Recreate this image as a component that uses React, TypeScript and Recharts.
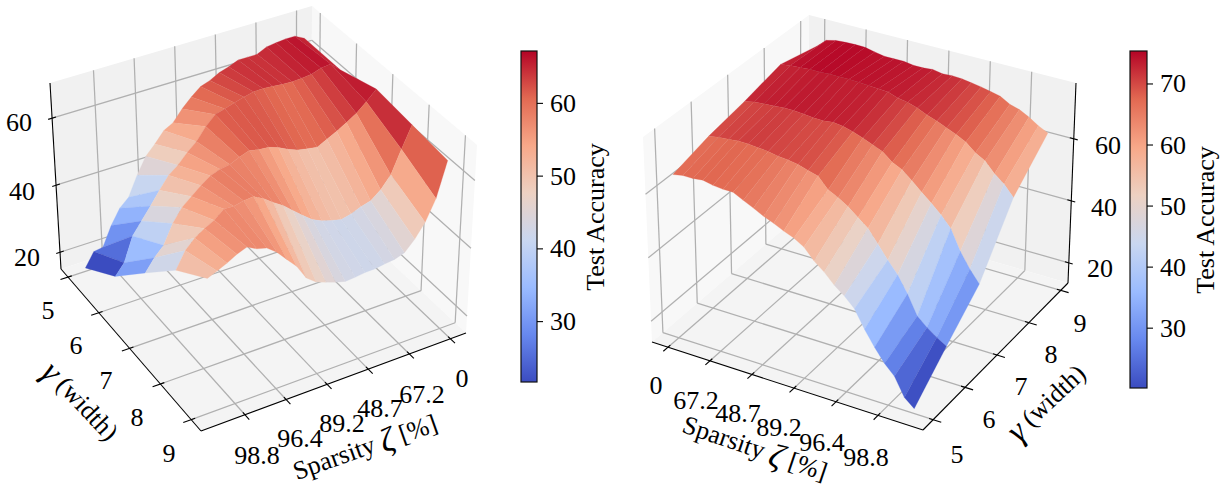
import React from 'react';
import { ScatterChart, Scatter, XAxis, YAxis } from 'recharts';

// ---------- Data: accuracy by gamma row, from sparsity 98.8 to 0 ----------
const leftG5 = [16,20,20.4,26,30.3,32.7,38.4,43.2,46,49.2,50.7,54,56.7,59,60,61.5,62.4,63.6,63.6,63.6,65,65.4,65.7,65.7,64.2];
const leftG6 = [23.9,27,34,37.5,41,44.8,48.3,50.4,53.3,55.7,59.3,62,62.8,63.7,64.6,65.3,65.4,65.2,64.9,64.8,65,65.3,66.3,66.6,64];
const leftG7 = [35,38.5,41.2,46.6,50.4,52.7,55,57,58,58.5,59.8,60.8,60.2,60,59,57.6,56.5,56,55.5,57,58.5,60.2,62,64.6,67.5];
const leftG8 = [45.6,50.3,53,54.8,56.3,58.6,58.5,59.2,59.5,58,56,54.2,51.8,49.5,47.3,46,45.2,44.5,45.2,46.4,47.2,49.5,53,59.7,66];
const leftG9 = [52.8,54,55.3,56.9,58,56.6,55.9,53.8,50.8,47.9,43.6,41.5,40.5,39.5,38.8,39,39.4,39.5,40,40.3,41.3,44.3,48.3,54.3,64.6];

const rightG5 = [15,17.5,23,26,30,34.6,40,43,45.4,48.5,51,54.4,56.3,57.5,59,60.3,61.9,63.4,65,65,65.3,66,65.6,65.6,65];
const rightG6 = [24.4,26.2,28.4,31,37,42,45.7,49.8,53.8,56.3,58.8,60.8,62.3,65.7,66.6,67.6,68.1,68.4,69,69.3,69.6,69.6,69.3,69,68.4];
const rightG7 = [34,37.8,42.5,48.8,52.2,55,57.6,60.4,63,64.5,67,68.3,69.6,70.7,71.6,72,71.6,71.7,72,72.3,72.3,72,71.8,71.5,70.8];
const rightG8 = [51.6,55,57.4,60.7,62.4,65,66.6,67.9,69.2,70.3,71.7,72.7,73.3,74.4,74.6,74.8,75,75.1,75.1,75.1,74.9,75,74.7,74.5,74];
const rightG9 = [62.5,64,66,67.6,68.5,70.3,71,71.7,72.2,72.7,72.9,72.7,73.3,73,73,73.5,73.5,73.5,74.1,74.8,74.9,74.8,74.6,73.8,71];

const sparsityLabels = ['98.8', '96.4', '89.2', '48.7', '67.2', '0'];
const gammaLabels = ['5', '6', '7', '8', '9'];
const zTicks = [20, 40, 60];
const leftBarTicks = [30, 40, 50, 60];
const rightBarTicks = [30, 40, 50, 60, 70];

const coolwarmStops = ['#3b4cc0', '#6788ee', '#9abbff', '#c9d7f0', '#edd1c2', '#f7a889', '#e26952', '#b40426'];

// ---------- Layout of the two 3D boxes ----------
type P = [number, number];
interface Box {
  floor: P[]; top: P[];
  zMin: number; zMax: number;
  a0: number; aStep: number;
  b0: number; b1: number; tick0: number; tickStep: number;
  rows: number[][];
  vMin: number; vMax: number;
  mirror: boolean;
}
const leftBox: Box = {
  floor: [[61, 269], [201, 431], [466, 333], [311, 187]],
  top: [[50, 83], [197, 232], [477, 145], [312, 6]],
  zMin: 15, zMax: 70.5,
  a0: 0.05, aStep: 0.22,
  b0: 0.07, b1: 0.94, tick0: 0.166, tickStep: 0.155,
  rows: [leftG5, leftG6, leftG7, leftG8, leftG9],
  vMin: 21.7, vMax: 67.2, mirror: false,
};
const rightBox: Box = {
  floor: [[923, 430], [1068, 283], [808, 208], [652, 342]],
  top: [[922, 218], [1076, 83], [809, 15], [643, 137]],
  zMin: 13.5, zMax: 78,
  a0: 0.07, aStep: 0.22,
  b0: 0.07, b1: 0.94, tick0: 0.166, tickStep: 0.155,
  rows: [rightG5, rightG6, rightG7, rightG8, rightG9],
  vMin: 20.2, vMax: 75.4, mirror: true,
};

const bil = (q: P[], a: number, b: number): P => [
  q[0][0] * (1 - a) * (1 - b) + q[1][0] * a * (1 - b) + q[2][0] * a * b + q[3][0] * (1 - a) * b,
  q[0][1] * (1 - a) * (1 - b) + q[1][1] * a * (1 - b) + q[2][1] * a * b + q[3][1] * (1 - a) * b,
];
const proj = (box: Box, a: number, b: number, c: number): P => {
  const f = bil(box.floor, a, b);
  const t = bil(box.top, a, b);
  return [f[0] + (t[0] - f[0]) * c, f[1] + (t[1] - f[1]) * c];
};
const zFrac = (box: Box, z: number) => (z - box.zMin) / (box.zMax - box.zMin);

const hexToRgb = (h: string) => [1, 3, 5].map((i) => parseInt(h.slice(i, i + 2), 16));
const coolwarm = (t: number) => {
  const s = Math.max(0, Math.min(1, t)) * (coolwarmStops.length - 1);
  const i = Math.min(Math.floor(s), coolwarmStops.length - 2);
  const u = s - i;
  const p = hexToRgb(coolwarmStops[i]);
  const q = hexToRgb(coolwarmStops[i + 1]);
  return `rgb(${p.map((v, k) => Math.round(v + (q[k] - v) * u)).join(',')})`;
};

// ---------- Items handed to the Scatter series ----------
interface Item { x: number; y: number; pts?: P[]; fill?: string; stroke?: string; sw?: number; text?: string; size?: number; rot?: number; anchor?: string; greek?: string; rest?: string; grad?: boolean; w?: number; h?: number; }

const poly = (pts: P[], fill?: string, stroke?: string, sw?: number): Item => ({
  x: pts.reduce((s, p) => s + p[0], 0) / pts.length,
  y: pts.reduce((s, p) => s + p[1], 0) / pts.length,
  pts, fill, stroke, sw,
});

const panes = (box: Box): Item[] => {
  const [f, t] = [box.floor, box.top];
  if (!box.mirror) return [
    poly([f[0], f[3], t[3], t[0]], '#f1f1f1'),
    poly([f[3], f[2], t[2], t[3]], '#f8f8f8'),
    poly([f[0], f[1], f[2], f[3]], '#f4f4f4'),
  ];
  return [
    poly([f[1], f[2], t[2], t[1]], '#f1f1f1'),
    poly([f[2], f[3], t[3], t[2]], '#f8f8f8'),
    poly([f[0], f[1], f[2], f[3]], '#f4f4f4'),
  ];
};

const gridLines = (box: Box): Item[] => {
  const out: Item[] = [];
  const line = (p: P, q: P) => out.push(poly([p, q], undefined, '#b0b0b0', 1.25));
  const aT = gammaLabels.map((_, i) => box.a0 + box.aStep * i);
  const bT = sparsityLabels.map((_, i) => box.tick0 + box.tickStep * i);
  const aWall = box.mirror ? 1 : 0;
  aT.forEach((a) => {
    line(proj(box, a, 0, 0), proj(box, a, 1, 0));
    line(proj(box, a, 1, 0), proj(box, a, 1, 1));
  });
  bT.forEach((b) => {
    line(proj(box, 0, b, 0), proj(box, 1, b, 0));
    line(proj(box, aWall, b, 0), proj(box, aWall, b, 1));
  });
  zTicks.forEach((z) => {
    const c = zFrac(box, z);
    line(proj(box, 0, 1, c), proj(box, 1, 1, c));
    line(proj(box, aWall, 0, c), proj(box, aWall, 1, c));
  });
  return out;
};

const axisLines = (box: Box): Item[] => {
  const out: Item[] = [];
  const line = (p: P, q: P) => out.push(poly([p, q], undefined, '#000', 1.1));
  const zA = box.mirror ? 1 : 0;
  line(proj(box, zA, 0, 0), proj(box, zA, 0, 1));
  line(proj(box, 0, 0, 0), proj(box, 1, 0, 0));
  const sA = box.mirror ? 0 : 1;
  line(proj(box, sA, 0, 0), proj(box, sA, 1, 0));
  gammaLabels.forEach((_, i) => {
    const a = box.a0 + box.aStep * i;
    line(proj(box, a, -0.03, 0), proj(box, a, 0.015, 0));
  });
  sparsityLabels.forEach((_, i) => {
    const b = box.tick0 + box.tickStep * i;
    const e = box.mirror ? -0.03 : 1.03;
    const n = box.mirror ? 0.015 : 0.985;
    line(proj(box, e, b, 0), proj(box, n, b, 0));
  });
  zTicks.forEach((z) => {
    const c = zFrac(box, z);
    const dirA = box.mirror ? 1 : 0;
    line(proj(box, dirA, -0.015, c), proj(box, dirA, 0.015, c));
  });
  return out;
};

const faces = (box: Box): Item[] => {
  const out: { k: number; it: Item }[] = [];
  const nR = box.rows.length;
  const nC = box.rows[0].length;
  const aOf = (r: number) => box.a0 + box.aStep * r;
  const bOf = (c: number) => box.b0 + ((box.b1 - box.b0) * c) / (nC - 1);
  for (let r = 0; r < nR - 1; r++) {
    for (let c = 0; c < nC - 1; c++) {
      const z = [box.rows[r][c], box.rows[r + 1][c], box.rows[r + 1][c + 1], box.rows[r][c + 1]];
      const avg = (z[0] + z[1] + z[2] + z[3]) / 4;
      const col = coolwarm((avg - box.vMin) / (box.vMax - box.vMin));
      const pts: P[] = [
        proj(box, aOf(r), bOf(c), zFrac(box, z[0])),
        proj(box, aOf(r + 1), bOf(c), zFrac(box, z[1])),
        proj(box, aOf(r + 1), bOf(c + 1), zFrac(box, z[2])),
        proj(box, aOf(r), bOf(c + 1), zFrac(box, z[3])),
      ];
      const a = aOf(r + 0.5);
      const b = bOf(c + 0.5);
      out.push({ k: box.mirror ? -(a + b) : a - b, it: poly(pts, col, col, 0.25) });
    }
  }
  return out.sort((p, q) => p.k - q.k).map((e) => e.it);
};

const FS = 26;
const label = (x: number, y: number, text: string, anchor = 'middle'): Item => ({ x, y, text, anchor, size: FS });
const titled = (x: number, y: number, greek: string, rest: string, rot: number, prefix: string): Item => ({ x, y, greek, rest, rot, text: prefix, size: FS, anchor: 'middle' });

const leftZPos: P[] = [[27, 257], [22, 191], [19, 122]];
const rightZPos: P[] = [[1100, 268], [1104, 207], [1108, 145]];
const leftSPos: P[] = [[257, 455], [300, 438], [342, 423], [380, 408], [422, 394], [462, 378]];
const rightSPos: P[] = [[866, 457], [822, 442], [779, 427], [738, 413], [696, 400], [656, 385]];
const leftGPos: P[] = [[48, 310], [76, 345], [106, 380], [137, 417], [169, 453]];
const rightGPos: P[] = [[957, 454], [989, 419], [1021, 386], [1051, 354], [1080, 323]];

const textItems: Item[] = [
  ...zTicks.map((z, i) => label(leftZPos[i][0], leftZPos[i][1], String(z))),
  ...zTicks.map((z, i) => label(rightZPos[i][0], rightZPos[i][1], String(z))),
  ...sparsityLabels.map((s, i) => label(leftSPos[i][0], leftSPos[i][1], s)),
  ...sparsityLabels.map((s, i) => label(rightSPos[i][0], rightSPos[i][1], s)),
  ...gammaLabels.map((s, i) => label(leftGPos[i][0], leftGPos[i][1], s)),
  ...gammaLabels.map((s, i) => label(rightGPos[i][0], rightGPos[i][1], s)),
  titled(365, 447, 'ζ', ' [%]', -19.5, 'Sparsity '),
  titled(755, 448, 'ζ', ' [%]', 18.7, 'Sparsity '),
  { x: 81, y: 401, greek: 'γ', rest: ' (width)', rot: 47, text: '', size: FS, anchor: 'middle' },
  { x: 1046, y: 402, greek: 'γ', rest: ' (width)', rot: -43, text: '', size: FS, anchor: 'middle' },
  { x: 595, y: 217, text: 'Test Accuracy', rot: -90, size: FS, anchor: 'middle' },
  { x: 1205, y: 220, text: 'Test Accuracy', rot: -90, size: FS, anchor: 'middle' },
];

const bar = (x0: number, x1: number, y0: number, y1: number, vMin: number, vMax: number, ticks: number[]): Item[] => {
  const yOf = (v: number) => y1 - ((v - vMin) / (vMax - vMin)) * (y1 - y0);
  const items: Item[] = [{ x: (x0 + x1) / 2, y: (y0 + y1) / 2, grad: true, w: x1 - x0, h: y1 - y0 }];
  ticks.forEach((t) => {
    items.push(poly([[x1, yOf(t)], [x1 + 6, yOf(t)]], undefined, '#000', 1.1));
    items.push({ x: x1 + 13, y: yOf(t), text: String(t), size: FS, anchor: 'start' });
  });
  return items;
};

const Shape = (props: any) => {
  const { cx, cy, payload: p } = props;
  const dx = cx - p.x;
  const dy = cy - p.y;
  if (p.grad) {
    return (
      <g>
        <defs>
          <linearGradient id="cw" x1="0" y1="1" x2="0" y2="0">
            {coolwarmStops.map((c, i) => (
              <stop key={c} offset={i / (coolwarmStops.length - 1)} stopColor={c} />
            ))}
          </linearGradient>
        </defs>
        <rect x={cx - p.w / 2} y={cy - p.h / 2} width={p.w} height={p.h} fill="url(#cw)" stroke="#111" strokeWidth={1.2} />
      </g>
    );
  }
  if (p.pts) {
    if (p.pts.length === 2) {
      return <line x1={p.pts[0][0] + dx} y1={p.pts[0][1] + dy} x2={p.pts[1][0] + dx} y2={p.pts[1][1] + dy} stroke={p.stroke} strokeWidth={p.sw} />;
    }
    return (
      <polygon
        points={p.pts.map((q: P) => `${q[0] + dx},${q[1] + dy}`).join(' ')}
        fill={p.fill}
        stroke={p.stroke || 'none'}
        strokeWidth={p.sw || 0}
      />
    );
  }
  return (
    <text
      x={cx}
      y={cy}
      textAnchor={p.anchor}
      dominantBaseline="central"
      fontFamily="'Liberation Serif', serif"
      fontSize={p.size}
      fill="#000"
      transform={p.rot ? `rotate(${p.rot} ${cx} ${cy})` : undefined}
    >
      {p.text}
      {p.greek ? <tspan fontStyle="italic" fontSize={p.size + 8}>{p.greek}</tspan> : null}
      {p.rest ? <tspan>{p.rest}</tspan> : null}
    </text>
  );
};

const layers: { name: string; data: Item[] }[] = [
  { name: 'panes', data: [...panes(leftBox), ...panes(rightBox)] },
  { name: 'grid', data: [...gridLines(leftBox), ...gridLines(rightBox)] },
  { name: 'axes', data: [...axisLines(leftBox), ...axisLines(rightBox)] },
  { name: 'surfaceLeft', data: faces(leftBox) },
  { name: 'surfaceRight', data: faces(rightBox) },
  { name: 'colorbars', data: [...bar(521, 537, 51, 382, leftBox.vMin, leftBox.vMax, leftBarTicks), ...bar(1130, 1147, 51, 388, rightBox.vMin, rightBox.vMax, rightBarTicks)] },
  { name: 'labels', data: textItems },
];

export default function App() {
  return (
    <div style={{ position: 'absolute', left: 0, top: 0, width: 1226, height: 485, background: '#fff' }}>
      <ScatterChart width={1226} height={485} margin={{ top: 0, right: 0, bottom: 0, left: 0 }}>
        <XAxis type="number" dataKey="x" domain={[0, 1226]} hide />
        <YAxis type="number" dataKey="y" domain={[0, 485]} reversed hide />
        {layers.map((l) => (
          <Scatter key={l.name} name={l.name} data={l.data} shape={Shape} isAnimationActive={false} />
        ))}
      </ScatterChart>
    </div>
  );
}
